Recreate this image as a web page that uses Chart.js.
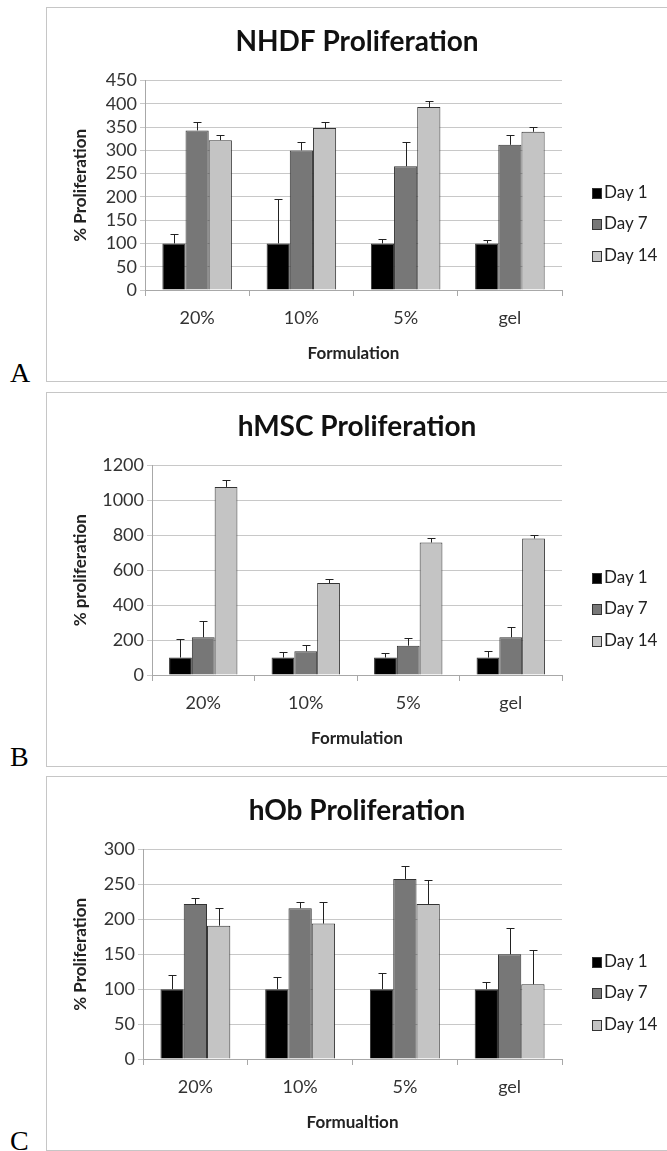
<!DOCTYPE html>
<html>
<head>
<meta charset="utf-8">
<script src="https://cdn.jsdelivr.net/npm/chart.js@4.4.1/dist/chart.umd.min.js"></script>
<style>
  body { margin: 0; width: 667px; height: 1151px; overflow: hidden; background: #fff; position: relative; font-family: Lato, sans-serif; }
  .panel { position: absolute; left: 46px; width: 700px; height: 373px; border: 1px solid #c6c6c6; }
  .panel canvas { position: absolute; left: 0; top: 0; }
  .letter { position: absolute; left: 10px; font: 28px/1 "Liberation Serif", serif; color: #000; }
  .legend { position: absolute; left: 545px; top: 0; }
  .legend div { position: absolute; left: 0; white-space: nowrap; font-size: 17px; color: #222; line-height: 20px; }
  .legend span { display: inline-block; width: 8px; height: 9px; border: 1px solid #333; margin-right: 2px; vertical-align: -1px; }
</style>
</head>
<body>

<div class="panel" id="panelA" style="top:7px"><canvas id="chartA" width="620" height="373"></canvas><div class="legend" id="legendA"></div></div>
<div class="letter" style="top:359px">A</div>

<div class="panel" id="panelB" style="top:392px"><canvas id="chartB" width="620" height="373"></canvas><div class="legend" id="legendB"></div></div>
<div class="letter" style="top:743px">B</div>

<div class="panel" id="panelC" style="top:776px"><canvas id="chartC" width="620" height="373"></canvas><div class="legend" id="legendC"></div></div>
<div class="letter" style="top:1127px">C</div>

<script>
// categories and series
const formulations = ['20%', '10%', '5%', 'gel'];
const days = ['Day 1', 'Day 7', 'Day 14'];

// A - NHDF
const nhdfDay1 = [100, 100, 100, 100];
const nhdfDay7 = [343, 300, 266, 312];
const nhdfDay14 = [322, 348, 393, 340];
const nhdfErr1 = [20, 96, 10, 8];
const nhdfErr7 = [17, 17, 52, 21];
const nhdfErr14 = [11, 14, 14, 11];
const nhdfTicks = [0, 50, 100, 150, 200, 250, 300, 350, 400, 450];

// B - hMSC
const hmscDay1 = [100, 100, 100, 100];
const hmscDay7 = [216, 136, 168, 216];
const hmscDay14 = [1078, 527, 759, 782];
const hmscErr1 = [105, 34, 24, 36];
const hmscErr7 = [92, 34, 42, 58];
const hmscErr14 = [40, 25, 26, 19];
const hmscTicks = [0, 200, 400, 600, 800, 1000, 1200];

// C - hOb
const hobDay1 = [100, 100, 100, 100];
const hobDay7 = [222, 216, 258, 150];
const hobDay14 = [191, 194, 222, 107];
const hobErr1 = [21, 18, 23, 11];
const hobErr7 = [9, 9, 18, 37];
const hobErr14 = [25, 31, 34, 49];
const hobTicks = [0, 50, 100, 150, 200, 250, 300];

const dayColors = ['#000000', '#777777', '#c4c4c4'];

// draws plus-only error bars on top of each bar
const errorBars = {
    id: 'errorBars',
    afterDatasetsDraw(chart) {
        const ctx = chart.ctx;
        const yScale = chart.scales.y;
        ctx.save();
        ctx.strokeStyle = '#222';
        ctx.lineWidth = 1;
        chart.data.datasets.forEach((ds, i) => {
            const meta = chart.getDatasetMeta(i);
            meta.data.forEach((bar, j) => {
                const top = yScale.getPixelForValue(ds.data[j] + ds.errorPlus[j]);
                const x = Math.round(bar.x) + 0.5;
                ctx.beginPath();
                ctx.moveTo(x, bar.y);
                ctx.lineTo(x, Math.round(top) + 0.5);
                ctx.moveTo(x - 4, Math.round(top) + 0.5);
                ctx.lineTo(x + 4, Math.round(top) + 0.5);
                ctx.stroke();
            });
        });
        ctx.restore();
    }
};

function makeChart(id, title, yTitle, xTitle, series, errs, ticks, yWidth) {
    const datasets = days.map((d, i) => ({
        label: d,
        data: series[i],
        errorPlus: errs[i],
        backgroundColor: dayColors[i],
        borderColor: '#333',
        borderWidth: 1,
        categoryPercentage: 0.667,
        barPercentage: 1.0
    }));

    return new Chart(document.getElementById(id), {
        type: 'bar',
        data: { labels: formulations, datasets: datasets },
        options: {
            responsive: false,
            animation: false,
            layout: { padding: 0 },
            plugins: {
                legend: { display: false },
                tooltip: { enabled: false },
                title: {
                    display: true,
                    text: title,
                    color: '#111',
                    font: { family: 'Lato', size: 28, weight: 'bold', lineHeight: 1.2 },
                    padding: { top: 17, bottom: 22 }
                }
            },
            scales: {
                x: {
                    grid: { drawOnChartArea: false, drawTicks: true, tickLength: 6, color: '#a8a8a8', offset: true },
                    border: { color: '#a8a8a8' },
                    ticks: { color: '#333', font: { family: 'Lato', size: 18 }, padding: 11 },
                    title: {
                        display: true,
                        text: xTitle,
                        color: '#222',
                        font: { family: 'Lato', size: 17, weight: 'bold', lineHeight: 1.2 },
                        padding: { top: 0, bottom: 17 }
                    },
                    afterFit(scale) { scale.height = 91; }
                },
                y: {
                    min: ticks[0],
                    max: ticks[ticks.length - 1],
                    afterBuildTicks(scale) { scale.ticks = ticks.map(v => ({ value: v })); },
                    grid: { color: '#c8c8c8', tickLength: 5 },
                    border: { color: '#a8a8a8' },
                    ticks: { color: '#333', font: { family: 'Lato', size: 18 }, padding: 3, autoSkip: false, callback: v => String(v) },
                    title: {
                        display: true,
                        text: yTitle,
                        color: '#222',
                        font: { family: 'Lato', size: 17, weight: 'bold', lineHeight: 1.2 },
                        padding: { top: 23, bottom: 0 }
                    },
                    afterFit(scale) { scale.width = yWidth; }
                },
                // empty right-hand strip that leaves room for the legend
                legendSpace: {
                    type: 'linear',
                    position: 'right',
                    grid: { display: false },
                    border: { display: false },
                    ticks: { display: false },
                    afterFit(scale) { scale.width = 105; }
                }
            }
        },
        plugins: [errorBars]
    });
}

function makeLegend(id) {
    const box = document.getElementById(id);
    const tops = [174, 205, 237];
    days.forEach((d, i) => {
        const item = document.createElement('div');
        item.style.top = tops[i] + 'px';
        item.innerHTML = '<span style="background:' + dayColors[i] + '"></span>' + d;
        box.appendChild(item);
    });
}

makeChart('chartA', 'NHDF Proliferation', '% Proliferation', 'Formulation',
    [nhdfDay1, nhdfDay7, nhdfDay14], [nhdfErr1, nhdfErr7, nhdfErr14], nhdfTicks, 98);
makeChart('chartB', 'hMSC Proliferation', '% proliferation', 'Formulation',
    [hmscDay1, hmscDay7, hmscDay14], [hmscErr1, hmscErr7, hmscErr14], hmscTicks, 105);
makeChart('chartC', 'hOb Proliferation', '% Proliferation', 'Formualtion',
    [hobDay1, hobDay7, hobDay14], [hobErr1, hobErr7, hobErr14], hobTicks, 96);

makeLegend('legendA');
makeLegend('legendB');
makeLegend('legendC');
</script>
</body>
</html>
